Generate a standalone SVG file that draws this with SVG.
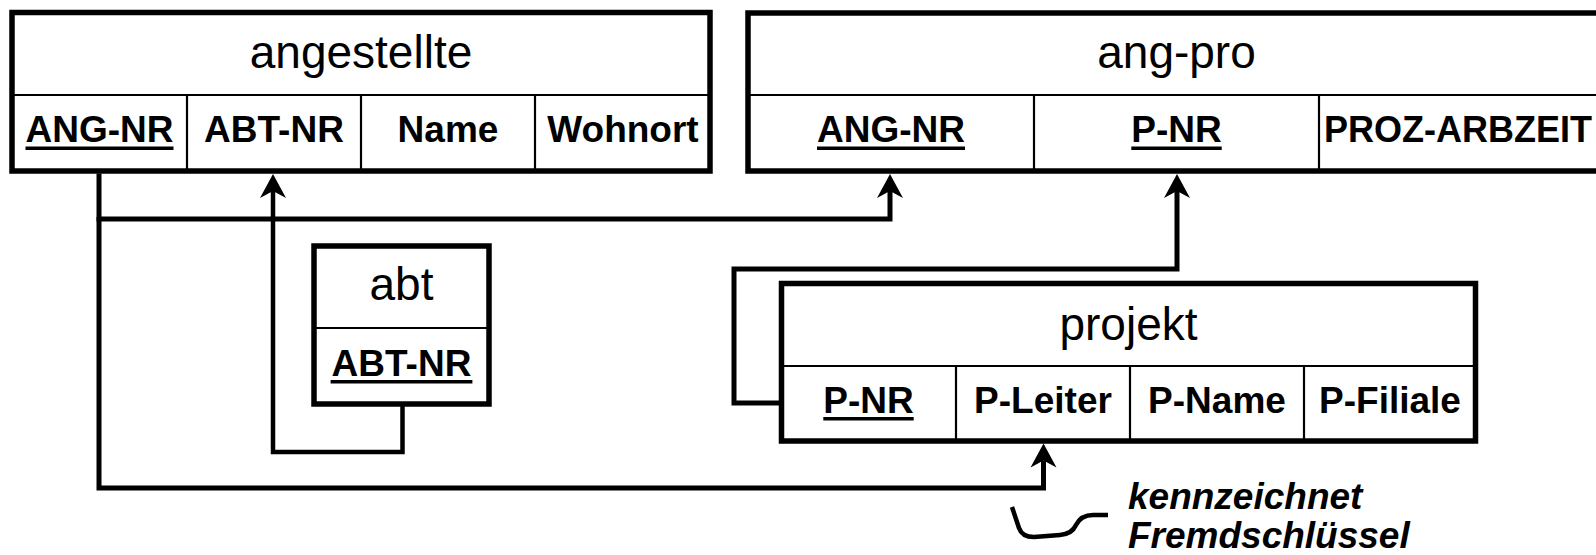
<svg xmlns="http://www.w3.org/2000/svg" width="1596" height="555" viewBox="0 0 1596 555">
<style>
.box{fill:#fff;stroke:#000;stroke-width:5.5}
.div{stroke:#000;stroke-width:2.2;fill:none}
.title{font-family:"Liberation Sans",Arial,sans-serif;font-size:46px;text-anchor:middle;fill:#000}
.attr{font-family:"Liberation Sans",Arial,sans-serif;font-size:37px;font-weight:bold;text-anchor:middle;fill:#000}
.ul{fill:#000}
.con{fill:none;stroke:#000;stroke-width:5}
.con2{fill:none;stroke:#000;stroke-width:4.5}
.note{font-family:"Liberation Sans",Arial,sans-serif;font-size:37px;font-weight:bold;font-style:italic;fill:#000}
</style>
<defs>
<marker id="arr" markerUnits="userSpaceOnUse" viewBox="0 -14 25 28" refX="7" refY="0" markerWidth="25" markerHeight="28" orient="auto">
<path d="M24,0 L0,-13 L7,0 L0,13 Z" fill="#000"/>
</marker>
</defs>
<rect width="1596" height="555" fill="#fff"/>

<g id="angestellte">
<rect class="box" x="12" y="12.5" width="698" height="158.5"/>
<line class="div" x1="12" y1="95" x2="710" y2="95"/>
<line class="div" x1="187" y1="95" x2="187" y2="171"/>
<line class="div" x1="361" y1="95" x2="361" y2="171"/>
<line class="div" x1="535" y1="95" x2="535" y2="171"/>
<text class="title" x="361" y="68">angestellte</text>
<text class="attr" x="99.5" y="142">ANG-NR</text>
<rect class="ul" x="25.5" y="146.5" width="148" height="3.5"/>
<text class="attr" x="274" y="142">ABT-NR</text>
<text class="attr" x="448" y="142">Name</text>
<text class="attr" x="623" y="142">Wohnort</text>
</g>

<g id="ang-pro">
<rect class="box" x="748" y="13" width="860" height="158"/>
<line class="div" x1="748" y1="95" x2="1608" y2="95"/>
<line class="div" x1="1034" y1="95" x2="1034" y2="171"/>
<line class="div" x1="1319" y1="95" x2="1319" y2="171"/>
<text class="title" x="1176.5" y="68">ang-pro</text>
<text class="attr" x="891" y="142">ANG-NR</text>
<rect class="ul" x="817" y="146.5" width="148" height="3.5"/>
<text class="attr" x="1176.5" y="142">P-NR</text>
<rect class="ul" x="1131.3" y="146.5" width="90.4" height="3.5"/>
<text class="attr" x="1458" y="142" style="font-size:36px">PROZ-ARBZEIT</text>
</g>

<g id="abt">
<rect class="box" x="314" y="246" width="175" height="158"/>
<line class="div" x1="314" y1="328" x2="489" y2="328"/>
<text class="title" x="401.5" y="300">abt</text>
<text class="attr" x="401.5" y="376">ABT-NR</text>
<rect class="ul" x="330.6" y="380" width="141.8" height="3.5"/>
</g>

<g id="projekt">
<rect class="box" x="781.5" y="283.5" width="694" height="157.5"/>
<line class="div" x1="781.5" y1="366" x2="1475.5" y2="366"/>
<line class="div" x1="956" y1="366" x2="956" y2="441"/>
<line class="div" x1="1130" y1="366" x2="1130" y2="441"/>
<line class="div" x1="1304" y1="366" x2="1304" y2="441"/>
<text class="title" x="1128.5" y="340">projekt</text>
<text class="attr" x="868.5" y="413">P-NR</text>
<rect class="ul" x="823.3" y="417" width="90.4" height="3.5"/>
<text class="attr" x="1043" y="413">P-Leiter</text>
<text class="attr" x="1217" y="413">P-Name</text>
<text class="attr" x="1390" y="413">P-Filiale</text>
</g>

<g id="connectors">
<path class="con" d="M99,173.5 V219 H890 V191" marker-end="url(#arr)"/>
<path class="con" d="M99,217 V488 H1043.5 V460.5" marker-end="url(#arr)"/>
<path class="con2" d="M402.5,406 V452 H273 V191" marker-end="url(#arr)"/>
<path class="con" d="M779,403 H734 V269 H1177 V191" marker-end="url(#arr)"/>
</g>

<g id="annotation">
<path class="con2" d="M1012,507 L1019,528 Q1022,537 1034,537 L1060,535 Q1072,534 1076,525 Q1081,515 1093,515 L1108,515"/>
<text class="note" x="1128" y="509">kennzeichnet</text>
<text class="note" x="1128" y="548">Fremdschlüssel</text>
</g>
</svg>
